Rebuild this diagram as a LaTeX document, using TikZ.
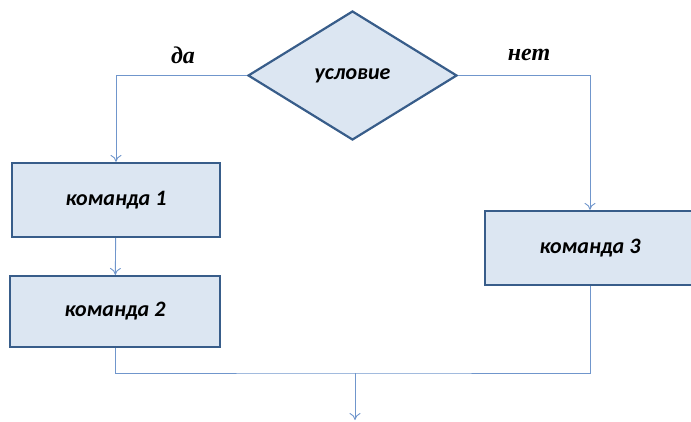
\documentclass[tikz,border=0pt]{standalone}
\usepackage{fontspec}
\setmainfont{Liberation Serif}
\newfontfamily\cmdfont{Carlito}
\usetikzlibrary{arrows,arrows.meta,shapes,positioning,shapes.geometric}
\definecolor{blockline}{HTML}{385D8A}
\definecolor{blockfill}{HTML}{DCE6F2}
\definecolor{wire}{HTML}{7096CC}

\begin{document}
\begin{tikzpicture}[x=1pt,y=-1pt]
\tikzset{block/.style ={draw=blockline,fill=blockfill,line width=2.2pt,inner sep=0pt,
    font=\cmdfont\bfseries\itshape\fontsize{22}{26}\selectfont},
  wire/.style ={draw=wire,line width=0.9pt},
  tip/.style ={-{To[length=7pt,width=11pt]}},
  label/.style ={font=\bfseries\itshape\fontsize{24}{28}\selectfont}}
\useasboundingbox (0,0) rectangle (691,421);
% decision and commands
    \node[block,diamond,minimum width=209pt,minimum height=129pt] (cond) at (352.5,75.5) {условие};
    \node[block,rectangle,minimum width=208pt,minimum height=74pt] (cmd1) at (116,200) {команда 1};
    \node[block,rectangle,minimum width=210pt,minimum height=71pt] (cmd2) at (115,311.5) {команда 2};
    \node[block,rectangle,minimum width=210pt,minimum height=74pt] (cmd3) at (590,248) {команда 3};
    \node[label] (yes) at (183,55) {да};
    \node[label] (no) at (529,55) {нет};
    \coordinate (join) at (355,373);
    \coordinate (exit) at (355,420);
% connectors
    \draw[wire,tip] (cond.west) -| (cmd1.north);
    \draw[wire,tip] (cond.east) -| (cmd3.north);
    \draw[wire,tip] (cmd1) -- (cmd2);
    \draw[wire] (cmd2.south) |- (join) -| (cmd3.south);
    \draw[wire,tip] (join) -- (exit);
\end{tikzpicture}
\end{document}
